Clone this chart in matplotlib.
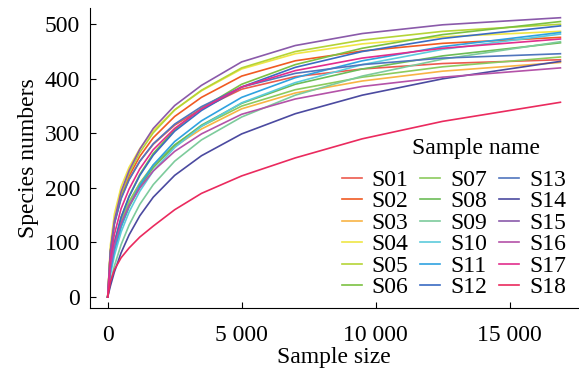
import matplotlib
matplotlib.use("Agg")
import matplotlib.pyplot as plt
from matplotlib.ticker import FuncFormatter

plt.rcParams["font.family"] = ["Liberation Serif", "DejaVu Serif"]

sample_size = [0, 100, 250, 500, 800, 1200, 1700, 2500, 3500, 5000, 7000, 9500, 12500, 16900]

S01 = [0, 84, 136, 182, 216, 249, 280, 315, 345, 381, 404, 418, 428, 435]
S02 = [0, 83, 136, 185, 222, 258, 292, 331, 366, 405, 433, 451, 465, 476]
S03 = [0, 58, 99, 141, 174, 208, 239, 276, 308, 345, 374, 396, 414, 430]
S04 = [0, 95, 152, 202, 238, 272, 305, 343, 378, 418, 446, 464, 477, 487]
S05 = [0, 83, 137, 188, 227, 265, 301, 343, 379, 420, 450, 471, 487, 500]
S06 = [0, 56, 99, 146, 185, 225, 263, 307, 346, 390, 426, 456, 481, 505]
S07 = [0, 57, 99, 140, 175, 209, 242, 279, 313, 350, 380, 403, 422, 440]
S08 = [0, 48, 87, 129, 165, 202, 237, 278, 315, 355, 390, 418, 442, 466]
S09 = [0, 27, 57, 96, 132, 170, 206, 249, 288, 330, 370, 405, 436, 468]
S10 = [0, 40, 76, 119, 156, 194, 231, 274, 313, 356, 393, 426, 454, 482]
S11 = [0, 47, 86, 129, 167, 205, 242, 285, 323, 366, 402, 433, 459, 485]
S12 = [0, 56, 99, 146, 184, 223, 260, 304, 342, 385, 421, 450, 474, 497]
S13 = [0, 82, 134, 180, 215, 249, 281, 317, 349, 385, 410, 426, 438, 446]
S14 = [0, 20, 46, 81, 114, 149, 183, 223, 259, 299, 336, 370, 400, 432]
S15 = [0, 85, 140, 193, 232, 271, 309, 351, 388, 431, 461, 483, 499, 512]
S16 = [0, 55, 95, 135, 168, 200, 231, 267, 299, 335, 363, 386, 403, 420]
S17 = [0, 68, 115, 162, 198, 235, 270, 309, 345, 385, 415, 438, 456, 473]
S18 = [0, 28, 50, 72, 90, 110, 130, 160, 190, 222, 255, 290, 322, 357]

names = ["S01", "S02", "S03", "S04", "S05", "S06", "S07", "S08", "S09",
         "S10", "S11", "S12", "S13", "S14", "S15", "S16", "S17", "S18"]
series = [S01, S02, S03, S04, S05, S06, S07, S08, S09,
          S10, S11, S12, S13, S14, S15, S16, S17, S18]
colors = ["#ec5a4e", "#f05a22", "#f8b445", "#efe645", "#b5d437", "#7cc142",
          "#8ccb5e", "#6cbc58", "#7dcb9c", "#5ccbdc", "#2fa2e0", "#3a6bc2",
          "#5076bd", "#4b4aa0", "#8a5aaa", "#b452a8", "#e22d8c", "#ea2a5e"]

fig = plt.figure(figsize=(5.79, 3.76), dpi=100)
ax = fig.add_axes([0.155, 0.181, 0.843, 0.798])

for name, vals, c in zip(names, series, colors):
    ax.plot(sample_size, vals, color=c, lw=1.2, label=name)

ax.set_xlim(-670, 17550)
ax.set_ylim(-20, 530)
ax.set_xticks([0, 5000, 10000, 15000])
ax.set_yticks([0, 100, 200, 300, 400, 500])
ax.xaxis.set_major_formatter(FuncFormatter(lambda v, p: f"{int(v):,}".replace(",", " ")))
ax.tick_params(direction="in", length=4, labelsize=17)
ax.tick_params(axis="x", pad=12)
ax.tick_params(axis="y", pad=7)
ax.spines["top"].set_visible(False)
ax.spines["right"].set_visible(False)
ax.set_xlabel("Sample size", fontsize=17, labelpad=1)
ax.set_ylabel("Species numbers", fontsize=17, labelpad=4)

leg = ax.legend(ncol=3, frameon=False, fontsize=17,
                loc="lower right", bbox_to_anchor=(0.995, 0.0),
                handlelength=0.85, handletextpad=0.42, columnspacing=0.5,
                labelspacing=0.0, borderaxespad=0.0)
fig.text(0.822, 0.606, "Sample name", fontsize=17, ha="center", va="center")

fig.savefig("out.png", dpi=100)
